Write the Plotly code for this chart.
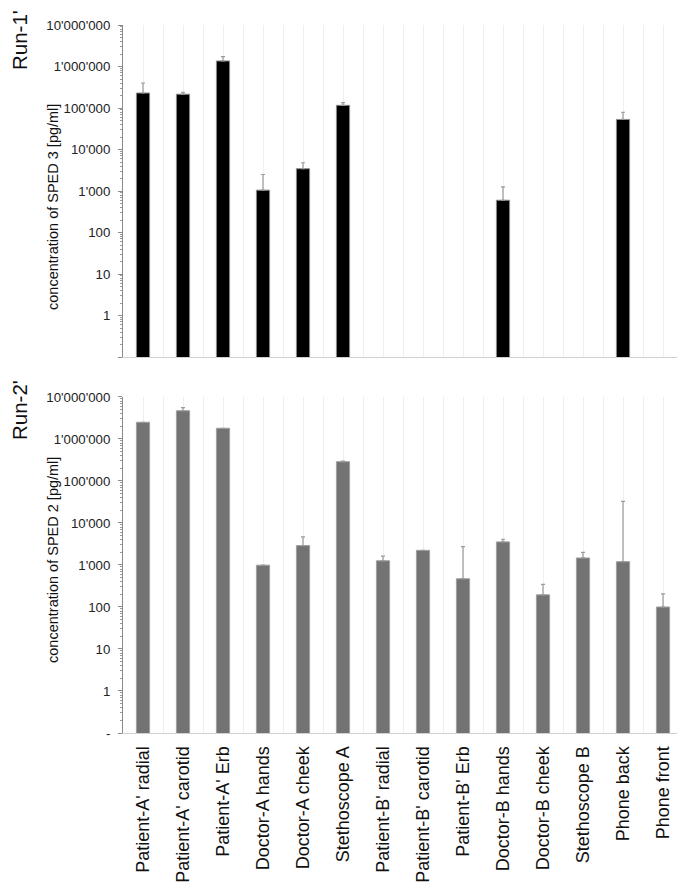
import plotly.graph_objects as go

categories = ["Patient-A' radial", "Patient-A' carotid", "Patient-A' Erb", "Doctor-A hands",
              "Doctor-A cheek", "Stethoscope A", "Patient-B' radial", "Patient-B' carotid",
              "Patient-B' Erb", "Doctor-B hands", "Doctor-B cheek", "Stethoscope B",
              "Phone back", "Phone front"]

run1_values = [230000, 215000, 1360000, 1050, 3450, 116000, None, None, None, 600, None, None, 53000, None]
run1_upper = [400000, 240000, 1730000, 2500, 4800, 135000, None, None, None, 1260, None, None, 79000, None]

run2_values = [2500000, 4700000, 1800000, 990, 2900, 288000, 1260, 2230, 470, 3550, 195, 1470, 1200, 100]
run2_upper = [2500000, 5600000, 1800000, 990, 4650, 296000, 1620, 2230, 2750, 4100, 345, 2000, 32600, 205]

ytick_vals = [0.1, 1, 10, 100, 1000, 10000, 100000, 1000000, 10000000]
ytick_text_top = ["", "1", "10", "100", "1'000", "10'000", "100'000", "1'000'000", "10'000'000"]
ytick_text_bottom = ["-", "1", "10", "100", "1'000", "10'000", "100'000", "1'000'000", "10'000'000"]

xpos = list(range(len(categories)))


def plus_err(vals, ups):
    return [(u - v) if (v is not None and u is not None) else 0 for v, u in zip(vals, ups)]


FONT = "Liberation Sans, Arial, Helvetica, sans-serif"

fig = go.Figure()
fig.add_trace(go.Bar(
    x=xpos, y=run1_values, xaxis="x", yaxis="y", width=0.33,
    marker=dict(color="#000000", line=dict(color="#8a8a8a", width=1)),
    error_y=dict(type="data", symmetric=False, array=plus_err(run1_values, run1_upper),
                 arrayminus=[0] * len(xpos), color="#9a9a9a", thickness=1.2, width=2),
    showlegend=False))
fig.add_trace(go.Bar(
    x=xpos, y=run2_values, xaxis="x2", yaxis="y2", width=0.33,
    marker=dict(color="#737373", line=dict(color="#a0a0a0", width=1)),
    error_y=dict(type="data", symmetric=False, array=plus_err(run2_values, run2_upper),
                 arrayminus=[0] * len(xpos), color="#9a9a9a", thickness=1.2, width=2),
    showlegend=False))

xaxis_common = dict(
    range=[-0.5, len(categories) - 0.5], tickvals=xpos, showgrid=True, gridcolor="#efefef",
    gridwidth=1, zeroline=False, showline=True, linecolor="#d0d0d0", linewidth=1, ticks="",
    automargin=False,
    minor=dict(tick0=0.5, dtick=1, showgrid=True, gridcolor="#efefef", gridwidth=1, ticks=""),
)
yaxis_common = dict(
    type="log", range=[-1, 7], tickvals=ytick_vals, showgrid=False, zeroline=False,
    showline=True, linecolor="#8a8a8a", linewidth=1, ticks="outside", ticklen=4,
    tickcolor="#8a8a8a", tickfont=dict(size=13.25, color="#222222", family=FONT),
    ticklabelstandoff=5, automargin=False,
    minor=dict(ticks="outside", ticklen=2, tickcolor="#9a9a9a", dtick="D1", showgrid=False),
)

fig.update_layout(
    width=677, height=877,
    margin=dict(l=115, r=2, t=17, b=152),
    paper_bgcolor="white", plot_bgcolor="white",
    font=dict(family=FONT, color="#222222"),
    bargap=0.6,
    xaxis=dict(**xaxis_common, anchor="y", showticklabels=False, domain=[0, 1]),
    xaxis2=dict(**xaxis_common, anchor="y2", ticktext=categories, tickangle=-90,
                ticklabelstandoff=5,
                tickfont=dict(size=18, color="#111111", family=FONT), domain=[0, 1]),
    yaxis=dict(**yaxis_common, domain=[0.531, 1.0], anchor="x", ticktext=ytick_text_top),
    yaxis2=dict(**yaxis_common, domain=[0.0, 0.4746], anchor="x2", ticktext=ytick_text_bottom),
    annotations=[
        dict(text="concentration of SPED 3 [pg/ml]", xref="paper", yref="paper",
             x=-0.125, y=0.743, textangle=-90, showarrow=False,
             font=dict(size=14.5, color="#111111", family=FONT), xanchor="center", yanchor="middle"),
        dict(text="concentration of SPED 2 [pg/ml]", xref="paper", yref="paper",
             x=-0.125, y=0.2444, textangle=-90, showarrow=False,
             font=dict(size=14.5, color="#111111", family=FONT), xanchor="center", yanchor="middle"),
        dict(text="Run-1'", xref="paper", yref="paper", x=-0.1857, y=0.9788, textangle=-90,
             showarrow=False, font=dict(size=20.5, color="#111111", family=FONT),
             xanchor="center", yanchor="middle"),
        dict(text="Run-2'", xref="paper", yref="paper", x=-0.1857, y=0.4562, textangle=-90,
             showarrow=False, font=dict(size=20.5, color="#111111", family=FONT),
             xanchor="center", yanchor="middle"),
    ],
)

fig.write_html("out.html")
